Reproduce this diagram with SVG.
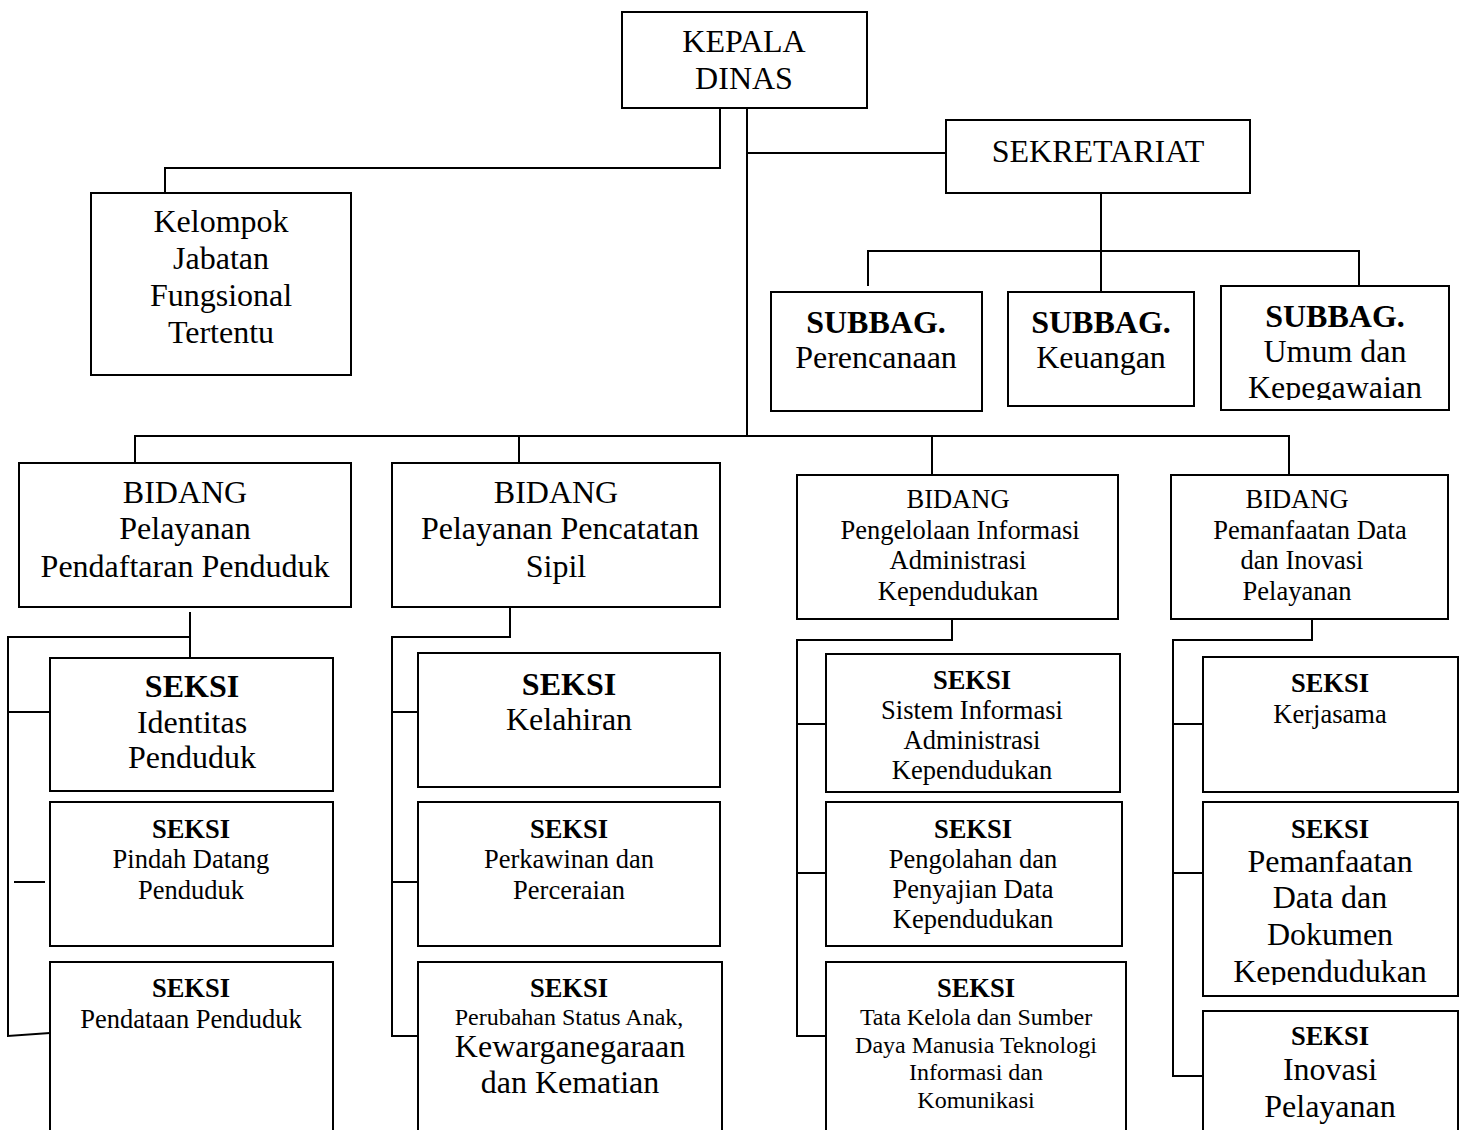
<svg xmlns="http://www.w3.org/2000/svg" width="1463" height="1130" viewBox="0 0 1463 1130">
<style>
  .box { fill: #fff; stroke: #000; stroke-width: 2; }
  .ln { fill: none; stroke: #000; stroke-width: 2; }
  text { font-family: "Liberation Serif", "Times New Roman", serif; fill: #000; text-anchor: middle; }
  .l { font-size: 32px; }
  .m { font-size: 26.5px; }
  .s { font-size: 24px; }
  .b { font-weight: bold; }
</style>
<defs>
  <clipPath id="c-sub3"><rect x="1221" y="286" width="228" height="114"/></clipPath>
  <clipPath id="c-s31"><rect x="826" y="654" width="294" height="131"/></clipPath>
  <clipPath id="c-s42"><rect x="1203" y="802" width="255" height="183"/></clipPath>
</defs>
<rect width="1463" height="1130" fill="#fff"/>

<g id="connectors">
  <path class="ln" d="M720,108 V168 H165 V193"/>
  <path class="ln" d="M747,108 V436"/>
  <path class="ln" d="M747,153 H946"/>
  <path class="ln" d="M1101,193 V292"/>
  <path class="ln" d="M868,286 V251 H1359 V286"/>
  <path class="ln" d="M135,463 V436 H1289 V475"/>
  <path class="ln" d="M519,436 V463"/>
  <path class="ln" d="M932,436 V475"/>
  <path class="ln" d="M190,612 V658"/>
  <path class="ln" d="M190,637 H8 V1036 L50,1033"/>
  <path class="ln" d="M8,712 H50"/>
  <path class="ln" d="M14,882 H45"/>
  <path class="ln" d="M510,607 V637 H392 V1036 H418"/>
  <path class="ln" d="M392,712 H418"/>
  <path class="ln" d="M392,882 H418"/>
  <path class="ln" d="M952,619 V640 H797 V1036 H826"/>
  <path class="ln" d="M797,724 H826"/>
  <path class="ln" d="M797,873 H826"/>
  <path class="ln" d="M1312,619 V640 H1173 V1076 H1203"/>
  <path class="ln" d="M1173,724 H1203"/>
  <path class="ln" d="M1173,873 H1203"/>
</g>

<g id="kepala">
  <rect class="box" x="622" y="12" width="245" height="96"/>
  <text class="l" x="744" y="52">KEPALA</text>
  <text class="l" x="744" y="89">DINAS</text>
</g>
<g id="sekretariat">
  <rect class="box" x="946" y="120" width="304" height="73"/>
  <text class="l" x="1098" y="162">SEKRETARIAT</text>
</g>
<g id="kelompok">
  <rect class="box" x="91" y="193" width="260" height="182"/>
  <text class="l" x="221" y="232">Kelompok</text>
  <text class="l" x="221" y="269">Jabatan</text>
  <text class="l" x="221" y="306">Fungsional</text>
  <text class="l" x="221" y="343">Tertentu</text>
</g>
<g id="subbag-perencanaan">
  <rect class="box" x="771" y="292" width="211" height="119"/>
  <text class="l b" x="876" y="333">SUBBAG.</text>
  <text class="l" x="876" y="368">Perencanaan</text>
</g>
<g id="subbag-keuangan">
  <rect class="box" x="1008" y="292" width="186" height="114"/>
  <text class="l b" x="1101" y="333">SUBBAG.</text>
  <text class="l" x="1101" y="368">Keuangan</text>
</g>
<g id="subbag-umum">
  <rect class="box" x="1221" y="286" width="228" height="124"/>
  <text class="l b" x="1335" y="327">SUBBAG.</text>
  <text class="l" x="1335" y="362">Umum dan</text>
  <text class="l" x="1335" y="398" clip-path="url(#c-sub3)">Kepegawaian</text>
</g>

<g id="bidang1">
  <rect class="box" x="19" y="463" width="332" height="144"/>
  <text class="l" x="185" y="503">BIDANG</text>
  <text class="l" x="185" y="539">Pelayanan</text>
  <text class="l" x="185" y="577">Pendaftaran Penduduk</text>
</g>
<g id="bidang2">
  <rect class="box" x="392" y="463" width="328" height="144"/>
  <text class="l" x="556" y="503">BIDANG</text>
  <text class="l" x="560" y="539">Pelayanan Pencatatan</text>
  <text class="l" x="556" y="577">Sipil</text>
</g>
<g id="bidang3">
  <rect class="box" x="797" y="475" width="321" height="144"/>
  <text class="m" x="958" y="508">BIDANG</text>
  <text class="m" x="960" y="539">Pengelolaan Informasi</text>
  <text class="m" x="958" y="569">Administrasi</text>
  <text class="m" x="958" y="600">Kependudukan</text>
</g>
<g id="bidang4">
  <rect class="box" x="1171" y="475" width="277" height="144"/>
  <text class="m" x="1297" y="508">BIDANG</text>
  <text class="m" x="1310" y="539">Pemanfaatan Data</text>
  <text class="m" x="1302" y="569">dan Inovasi</text>
  <text class="m" x="1297" y="600">Pelayanan</text>
</g>

<g id="seksi-identitas">
  <rect class="box" x="50" y="658" width="283" height="133"/>
  <text class="l b" x="192" y="697">SEKSI</text>
  <text class="l" x="192" y="733">Identitas</text>
  <text class="l" x="192" y="768">Penduduk</text>
</g>
<g id="seksi-pindah">
  <rect class="box" x="50" y="802" width="283" height="144"/>
  <text class="m b" x="191" y="838">SEKSI</text>
  <text class="m" x="191" y="868">Pindah Datang</text>
  <text class="m" x="191" y="899">Penduduk</text>
</g>
<g id="seksi-pendataan">
  <rect class="box" x="50" y="962" width="283" height="180"/>
  <text class="m b" x="191" y="997">SEKSI</text>
  <text class="m" x="191" y="1028">Pendataan Penduduk</text>
</g>

<g id="seksi-kelahiran">
  <rect class="box" x="418" y="653" width="302" height="134"/>
  <text class="l b" x="569" y="695">SEKSI</text>
  <text class="l" x="569" y="730">Kelahiran</text>
</g>
<g id="seksi-perkawinan">
  <rect class="box" x="418" y="802" width="302" height="144"/>
  <text class="m b" x="569" y="838">SEKSI</text>
  <text class="m" x="569" y="868">Perkawinan dan</text>
  <text class="m" x="569" y="899">Perceraian</text>
</g>
<g id="seksi-perubahan">
  <rect class="box" x="418" y="962" width="304" height="180"/>
  <text class="m b" x="569" y="997">SEKSI</text>
  <text class="s" x="569" y="1025">Perubahan Status Anak,</text>
  <text class="l" x="570" y="1057">Kewarganegaraan</text>
  <text class="l" x="570" y="1093">dan Kematian</text>
</g>

<g id="seksi-sistem">
  <rect class="box" x="826" y="654" width="294" height="138"/>
  <text class="m b" x="972" y="689">SEKSI</text>
  <text class="m" x="972" y="719">Sistem Informasi</text>
  <text class="m" x="972" y="749">Administrasi</text>
  <text class="m" x="972" y="779" clip-path="url(#c-s31)">Kependudukan</text>
</g>
<g id="seksi-pengolahan">
  <rect class="box" x="826" y="802" width="296" height="144"/>
  <text class="m b" x="973" y="838">SEKSI</text>
  <text class="m" x="973" y="868">Pengolahan dan</text>
  <text class="m" x="973" y="898">Penyajian Data</text>
  <text class="m" x="973" y="928">Kependudukan</text>
</g>
<g id="seksi-tatakelola">
  <rect class="box" x="826" y="962" width="300" height="180"/>
  <text class="m b" x="976" y="997">SEKSI</text>
  <text class="s" x="976" y="1025">Tata Kelola dan Sumber</text>
  <text class="s" x="976" y="1053">Daya Manusia Teknologi</text>
  <text class="s" x="976" y="1080">Informasi dan</text>
  <text class="s" x="976" y="1108">Komunikasi</text>
</g>

<g id="seksi-kerjasama">
  <rect class="box" x="1203" y="657" width="255" height="135"/>
  <text class="m b" x="1330" y="692">SEKSI</text>
  <text class="m" x="1330" y="723">Kerjasama</text>
</g>
<g id="seksi-pemanfaatan">
  <rect class="box" x="1203" y="802" width="255" height="194"/>
  <text class="m b" x="1330" y="838">SEKSI</text>
  <text class="l" x="1330" y="872">Pemanfaatan</text>
  <text class="l" x="1330" y="908">Data dan</text>
  <text class="l" x="1330" y="945">Dokumen</text>
  <text class="l" x="1330" y="982" clip-path="url(#c-s42)">Kependudukan</text>
</g>
<g id="seksi-inovasi">
  <rect class="box" x="1203" y="1011" width="255" height="131"/>
  <text class="m b" x="1330" y="1045">SEKSI</text>
  <text class="l" x="1330" y="1080">Inovasi</text>
  <text class="l" x="1330" y="1117">Pelayanan</text>
</g>
</svg>
